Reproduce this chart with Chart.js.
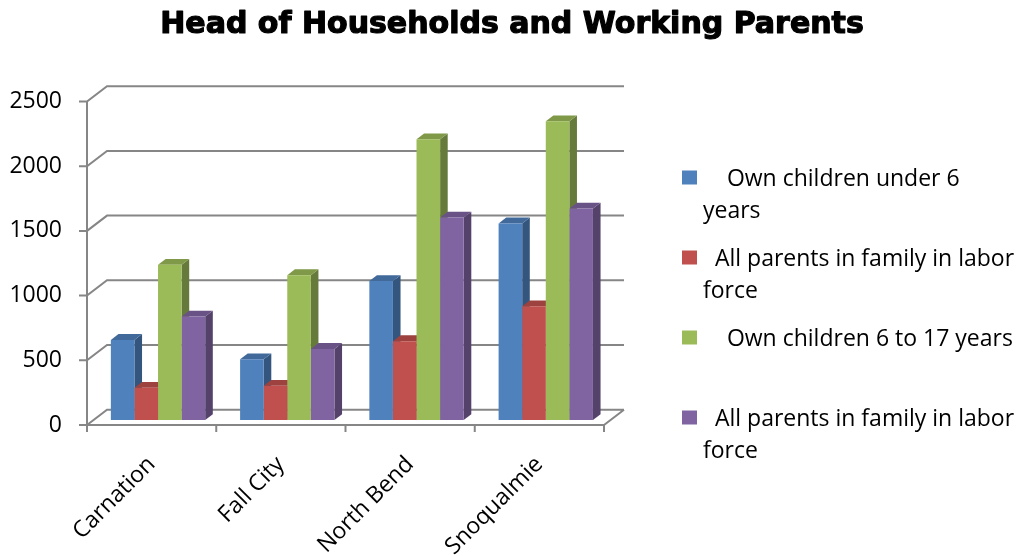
<!DOCTYPE html>
<html>
<head>
<meta charset="utf-8">
<script src="https://cdn.jsdelivr.net/npm/chart.js@4.4.1/dist/chart.umd.min.js"></script>
<style>
  body { margin: 0; background: #fff; }
  #wrap { width: 1022px; height: 556px; }
</style>
</head>
<body>
<div id="wrap"><canvas id="chart" width="1022" height="556"></canvas></div>
<script>
const titleText = 'Head of Households and Working Parents';
const categories = ['Carnation', 'Fall City', 'North Bend', 'Snoqualmie'];
// legend text, split the way it wraps in the legend box
const seriesNames = [
  ['    Own children under 6', 'years'],
  ['  All parents in family in labor', 'force'],
  ['    Own children 6 to 17 years'],
  ['  All parents in family in labor', 'force'],
];
const under6 = [620, 470, 1075, 1520];
const under6Working = [250, 265, 610, 880];
const age6to17 = [1200, 1120, 2170, 2310];
const age6to17Working = [800, 550, 1565, 1635];
const yTicks = [0, 500, 1000, 1500, 2000, 2500];

const colors = ['#4F81BD', '#C0504D', '#9BBB59', '#8064A2'];
const labelFont = { family: '"Open Sans"', size: 23 };

// oblique depth of the floor / back wall, and where the bars sit inside it
const DEPTH = { x: 20, y: -15.3 };
const BAR_FRONT = 0.32;
const BAR_DEPTH = 0.38;

function shade(hex, k) {
  const n = parseInt(hex.slice(1), 16);
  const r = Math.round(((n >> 16) & 255) * k);
  const g = Math.round(((n >> 8) & 255) * k);
  const b = Math.round((n & 255) * k);
  return `rgb(${r},${g},${b})`;
}

function poly(ctx, pts, fill) {
  ctx.beginPath();
  ctx.moveTo(pts[0][0], pts[0][1]);
  for (let i = 1; i < pts.length; i++) ctx.lineTo(pts[i][0], pts[i][1]);
  ctx.closePath();
  ctx.fillStyle = fill;
  ctx.fill();
}

const walls3d = {
  id: 'walls3d',
  beforeDatasetsDraw(chart) {
    const { ctx, chartArea: a, scales: { x, y } } = chart;
    ctx.save();
    ctx.strokeStyle = '#868686';
    ctx.lineWidth = 2;
    ctx.beginPath();
    // tick, left wall slant and back wall line for every value
    yTicks.forEach(v => {
      const py = y.getPixelForValue(v);
      ctx.moveTo(a.left - 8, py);
      ctx.lineTo(a.left, py);
      ctx.lineTo(a.left + DEPTH.x, py + DEPTH.y);
      ctx.lineTo(a.right + DEPTH.x, py + DEPTH.y);
    });
    ctx.moveTo(a.left, a.top);
    ctx.lineTo(a.left, a.bottom);
    // floor: front edge and right edge
    ctx.moveTo(a.left, a.bottom);
    ctx.lineTo(a.right, a.bottom);
    ctx.lineTo(a.right + DEPTH.x, a.bottom + DEPTH.y);
    // category separators under the floor
    const step = x.getPixelForValue(1) - x.getPixelForValue(0);
    for (let i = 0; i <= categories.length; i++) {
      const px = x.getPixelForValue(i) - step / 2;
      ctx.moveTo(px, a.bottom);
      ctx.lineTo(px, a.bottom + 7);
    }
    ctx.stroke();
    ctx.restore();

    // bars stand a bit behind the front plane; side and top faces first,
    // the library then paints the front faces over them
    ctx.save();
    ctx.translate(DEPTH.x * BAR_FRONT, DEPTH.y * BAR_FRONT);
    const dx = DEPTH.x * BAR_DEPTH, dy = DEPTH.y * BAR_DEPTH;
    chart.data.datasets.forEach((ds, di) => {
      const meta = chart.getDatasetMeta(di);
      meta.data.forEach(bar => {
        const { x: cx, y: top, base, width } = bar.getProps(['x', 'y', 'base', 'width'], true);
        const l = cx - width / 2, r = cx + width / 2;
        poly(ctx, [[r, top], [r + dx, top + dy], [r + dx, base + dy], [r, base]], shade(colors[di], 0.66));
        poly(ctx, [[l, top], [r, top], [r + dx, top + dy], [l + dx, top + dy]], shade(colors[di], 0.82));
      });
    });
  },
  afterDatasetsDraw(chart) {
    chart.ctx.restore();
  },
  afterDraw(chart) {
    const ctx = chart.ctx;
    ctx.save();
    ctx.fillStyle = '#000';
    ctx.strokeStyle = '#000';
    ctx.lineWidth = 1.2;
    ctx.lineJoin = 'round';
    ctx.font = 'bold 30px "DejaVu Sans"';
    ctx.textAlign = 'center';
    ctx.textBaseline = 'alphabetic';
    ctx.fillText(titleText, 512, 33);
    ctx.strokeText(titleText, 512, 33);

    ctx.font = `${labelFont.size}px ${labelFont.family}`;
    ctx.textAlign = 'left';
    seriesNames.forEach((lines, i) => {
      const cy = 177.5 + i * 80;
      ctx.fillStyle = colors[i];
      ctx.fillRect(682, cy - 7, 15, 14);
      ctx.fillStyle = '#000';
      lines.forEach((t, li) => ctx.fillText(t, 703, cy + 8.2 + li * 32));
    });
    ctx.restore();
  }
};

new Chart(document.getElementById('chart'), {
  type: 'bar',
  data: {
    labels: categories,
    datasets: [under6, under6Working, age6to17, age6to17Working].map((d, i) => ({
      label: seriesNames[i].join(' ').trim(),
      data: d,
      backgroundColor: colors[i],
      borderWidth: 0,
      barPercentage: 1,
      categoryPercentage: 0.73
    }))
  },
  options: {
    responsive: false,
    animation: false,
    layout: { padding: { top: 101.5, right: 418, left: 0, bottom: 0 } },
    plugins: { legend: { display: false }, title: { display: false }, tooltip: { enabled: false } },
    scales: {
      x: {
        grid: { display: false, drawTicks: false },
        border: { display: false },
        ticks: { minRotation: 45, maxRotation: 45, padding: 26, labelOffset: 0, color: '#000', font: labelFont },
        afterFit(s) { s.height = 131; }
      },
      y: {
        min: 0,
        max: 2500,
        grid: { display: false, drawTicks: false },
        border: { display: false },
        ticks: { stepSize: 500, padding: 25, color: '#000', font: labelFont, callback: v => String(v) },
        afterFit(s) { s.width = 87; }
      }
    }
  },
  plugins: [walls3d]
});
</script>
</body>
</html>
